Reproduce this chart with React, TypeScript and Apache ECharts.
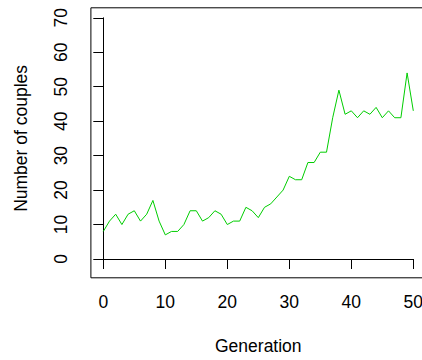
import React, { useEffect, useRef } from "react";
import * as echarts from "echarts";

const generations: number[] = Array.from({ length: 51 }, (_, i) => i);
const couples: number[] = [
  8, 11, 13, 10, 13, 14, 11, 13, 17, 11,
  7, 8, 8, 10, 14, 14, 11, 12, 14, 13,
  10, 11, 11, 15, 14, 12, 15, 16, 18, 20,
  24, 23, 23, 28, 28, 31, 31, 41, 49, 42,
  43, 41, 43, 42, 44, 41, 43, 41, 41, 54,
  43,
];
const xTitle = "Generation";
const yTitle = "Number of couples";

const FONT = "'Liberation Sans', Arial, Helvetica, sans-serif";
const FS = 17.5;

export default function App() {
  const ref = useRef<HTMLDivElement>(null);
  useEffect(() => {
    if (!ref.current) return;
    const chart = echarts.init(ref.current, undefined, { renderer: "svg" });
    chart.setOption({
      animation: false,
      backgroundColor: "#ffffff",
      textStyle: { fontFamily: FONT },
      grid: { left: 103.3, right: 16.7, top: 17.8, bottom: 92.2 },
      graphic: [
        {
          type: "rect",
          shape: { x: 90.9, y: 7.8, width: 334.8, height: 270 },
          style: { fill: "none", stroke: "#000", lineWidth: 1 },
          silent: true,
        },
      ],
      xAxis: {
        type: "value",
        min: 0,
        max: 50,
        interval: 10,
        offset: 10,
        name: xTitle,
        nameLocation: "middle",
        nameGap: 68,
        nameTextStyle: { fontSize: FS, color: "#000", fontFamily: FONT },
        axisLine: { show: true, lineStyle: { color: "#000", width: 1 } },
        axisTick: { show: true, length: 10, lineStyle: { color: "#000" } },
        axisLabel: { fontSize: FS, color: "#000", margin: 24, fontFamily: FONT },
        splitLine: { show: false },
      },
      yAxis: {
        type: "value",
        min: 0,
        max: 70,
        interval: 10,
        offset: 12.4,
        name: yTitle,
        nameLocation: "middle",
        nameGap: 61,
        nameRotate: 90,
        nameTextStyle: { fontSize: FS, color: "#000", fontFamily: FONT },
        axisLine: { show: true, lineStyle: { color: "#000", width: 1 } },
        axisTick: { show: true, length: 10, lineStyle: { color: "#000" } },
        axisLabel: { fontSize: FS, color: "#000", margin: 21, rotate: 90, fontFamily: FONT },
        splitLine: { show: false },
      },
      series: [
        {
          type: "line",
          data: generations.map((g, i) => [g, couples[i]]),
          showSymbol: false,
          symbol: "none",
          lineStyle: { color: "#00CD00", width: 1 },
          itemStyle: { color: "#00CD00" },
        },
      ],
    });
    return () => chart.dispose();
  }, []);
  return (
    <div
      ref={ref}
      style={{ position: "fixed", left: 0, top: 0, width: 430, height: 360 }}
    />
  );
}
